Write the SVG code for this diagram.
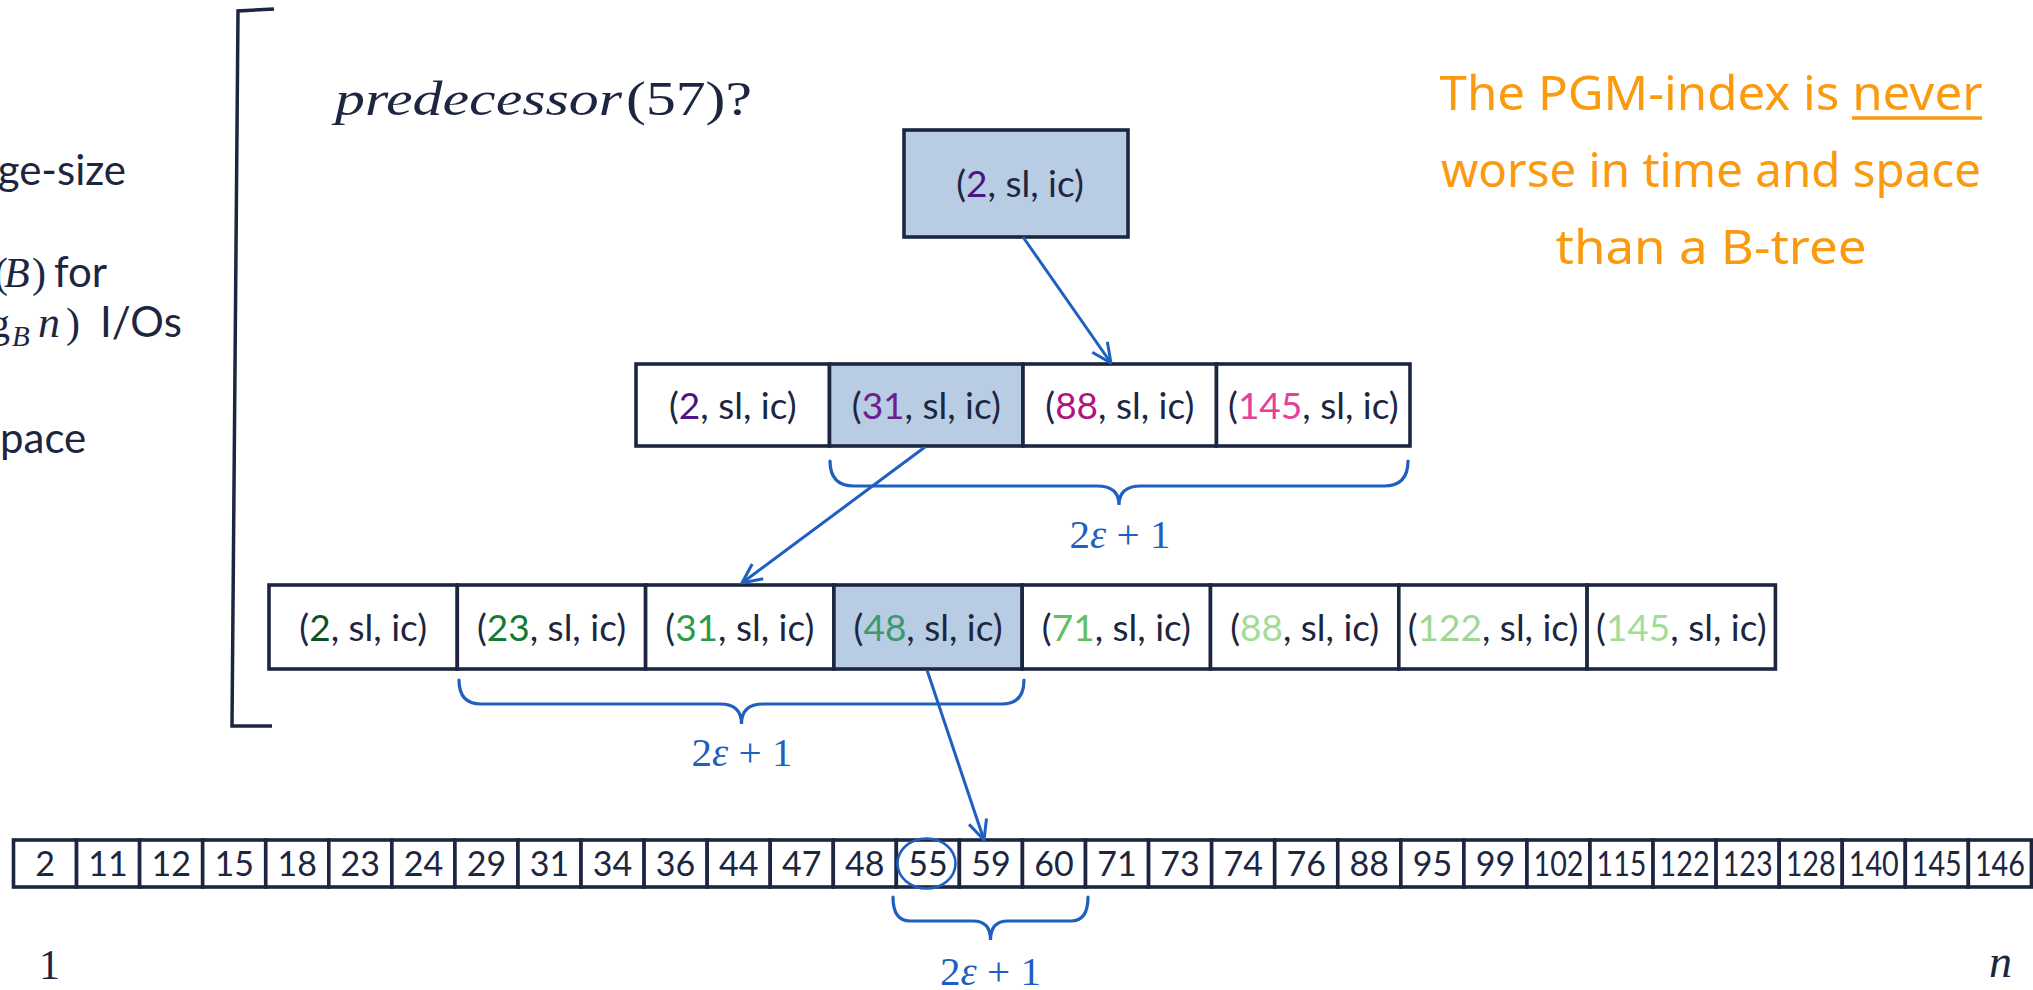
<svg xmlns="http://www.w3.org/2000/svg" width="2033" height="990" viewBox="0 0 2033 990">
  <defs>
    <style>
      .box { fill: #ffffff; stroke: #1d2640; stroke-width: 3.6; }
      .hl { fill: #b8cce4; }
      .t { font-family: Lato, "Liberation Sans", sans-serif; font-size: 37px; fill: #1d2640; text-anchor: middle; }
      .num { font-family: Lato, "Liberation Sans", sans-serif; font-size: 34px; fill: #1d2640; text-anchor: middle; }
      .body { font-family: Lato, "Liberation Sans", sans-serif; font-size: 42px; fill: #1d2640; }
      .mserif { font-family: "Liberation Serif", "DejaVu Serif", serif; fill: #1d2640; }
      .math { font-family: "Liberation Serif", "DejaVu Serif", serif; font-size: 41px; fill: #1f5fbf; text-anchor: middle; }
      .conn { stroke: #1f5fbf; stroke-width: 3; fill: none; }
      .brace { stroke: #1f5fbf; stroke-width: 3.2; fill: none; stroke-linecap: round; }
      .note { font-family: "Comic Sans MS", "Noto Sans", sans-serif; font-size: 48px; fill: #fa9a0f; text-anchor: middle; }
    </style>
    <marker id="ah" viewBox="0 0 20 20" refX="19" refY="10" markerWidth="23" markerHeight="23" orient="auto" markerUnits="userSpaceOnUse">
      <path d="M2,2 L19,10 L2,18" fill="none" stroke="#1f5fbf" stroke-width="2.6" stroke-linejoin="miter"/>
    </marker>
  </defs>

  <rect x="0" y="0" width="2033" height="990" fill="#ffffff"/>

  <!-- left column text, cut at the slide edge -->
  <g id="left-notes">
    <text class="body" x="126" y="185" text-anchor="end">ge-size</text>
    <text y="287">
      <tspan class="mserif" font-size="42" x="-6">(</tspan><tspan class="mserif" font-size="42" font-style="italic" x="4">B</tspan><tspan class="mserif" font-size="42" x="32">)</tspan><tspan class="body" x="54">for</tspan>
    </text>
    <text y="337">
      <tspan class="mserif" font-size="42" x="-11">g</tspan><tspan class="mserif" font-size="29" font-style="italic" x="12" y="346">B</tspan><tspan class="mserif" font-size="44" font-style="italic" x="38" y="337">n</tspan><tspan class="mserif" font-size="42" x="66">)</tspan><tspan class="body" x="100">I/Os</tspan>
    </text>
    <text class="body" x="0" y="453">pace</text>
  </g>

  <!-- big left bracket -->
  <path id="bracket" d="M274,9 L238,11 L232,726 L272,726" fill="none" stroke="#1d2640" stroke-width="3.5"/>

  <!-- query -->
  <g id="query">
    <text class="mserif" y="115" font-size="48"><tspan x="335" font-style="italic" textLength="287" lengthAdjust="spacingAndGlyphs">predecessor</tspan><tspan x="626" textLength="126" lengthAdjust="spacingAndGlyphs">(57)?</tspan></text>
  </g>

  <!-- side note -->
  <g id="note">
    <text class="note" x="1711" y="110" textLength="543" lengthAdjust="spacingAndGlyphs">The PGM-index is never</text>
    <line x1="1852" y1="118" x2="1982" y2="118" stroke="#fa9a0f" stroke-width="3.5"/>
    <text class="note" x="1711" y="187" textLength="540" lengthAdjust="spacingAndGlyphs">worse in time and space</text>
    <text class="note" x="1711" y="264" textLength="311" lengthAdjust="spacingAndGlyphs">than a B-tree</text>
  </g>

  <!-- root segment -->
  <g id="root">
    <rect class="box hl" x="904" y="130" width="224" height="107"/>
    <text class="t" x="1020" y="197">(<tspan fill="#4a1486">2</tspan>, sl, ic)</text>
  </g>

  <!-- level 1 segments -->
  <g id="l1-2"><rect class="box" x="636" y="364" width="193.5" height="82"/><text class="t" x="732.8" y="419">(<tspan fill="#4a1486">2</tspan>, sl, ic)</text></g>
  <g id="l1-31"><rect class="box hl" x="829.5" y="364" width="193.5" height="82"/><text class="t" x="926.3" y="419">(<tspan fill="#6e1f8e">31</tspan>, sl, ic)</text></g>
  <g id="l1-88"><rect class="box" x="1023" y="364" width="193.5" height="82"/><text class="t" x="1119.8" y="419">(<tspan fill="#b3137f">88</tspan>, sl, ic)</text></g>
  <g id="l1-145"><rect class="box" x="1216.5" y="364" width="193.5" height="82"/><text class="t" x="1313.3" y="419">(<tspan fill="#e3409b">145</tspan>, sl, ic)</text></g>

  <!-- level 2 segments -->
  <g id="l2-2"><rect class="box" x="269" y="585" width="188.3" height="84"/><text class="t" x="363.2" y="641">(<tspan fill="#0a5323">2</tspan>, sl, ic)</text></g>
  <g id="l2-23"><rect class="box" x="457.3" y="585" width="188.3" height="84"/><text class="t" x="551.5" y="641">(<tspan fill="#157a34">23</tspan>, sl, ic)</text></g>
  <g id="l2-31"><rect class="box" x="645.6" y="585" width="188.3" height="84"/><text class="t" x="739.8" y="641">(<tspan fill="#2c9a48">31</tspan>, sl, ic)</text></g>
  <g id="l2-48"><rect class="box hl" x="833.9" y="585" width="188.3" height="84"/><text class="t" x="928.1" y="641">(<tspan fill="#3a9a6c">48</tspan>, sl, ic)</text></g>
  <g id="l2-71"><rect class="box" x="1022.2" y="585" width="188.3" height="84"/><text class="t" x="1116.4" y="641">(<tspan fill="#66be63">71</tspan>, sl, ic)</text></g>
  <g id="l2-88"><rect class="box" x="1210.5" y="585" width="188.3" height="84"/><text class="t" x="1304.7" y="641">(<tspan fill="#a3dc99">88</tspan>, sl, ic)</text></g>
  <g id="l2-122"><rect class="box" x="1398.8" y="585" width="188.3" height="84"/><text class="t" x="1493" y="641">(<tspan fill="#9dd893">122</tspan>, sl, ic)</text></g>
  <g id="l2-145"><rect class="box" x="1587.1" y="585" width="188.3" height="84"/><text class="t" x="1681.3" y="641">(<tspan fill="#a3dc99">145</tspan>, sl, ic)</text></g>

  <!-- data array -->
  <g id="a-2"><rect class="box" x="13.5" y="840" width="63.06" height="47"/><text class="num" x="45" y="876">2</text></g>
  <g id="a-11"><rect class="box" x="76.56" y="840" width="63.06" height="47"/><text class="num" x="108.1" y="876">11</text></g>
  <g id="a-12"><rect class="box" x="139.62" y="840" width="63.06" height="47"/><text class="num" x="171.2" y="876">12</text></g>
  <g id="a-15"><rect class="box" x="202.68" y="840" width="63.06" height="47"/><text class="num" x="234.2" y="876">15</text></g>
  <g id="a-18"><rect class="box" x="265.74" y="840" width="63.06" height="47"/><text class="num" x="297.3" y="876">18</text></g>
  <g id="a-23"><rect class="box" x="328.8" y="840" width="63.06" height="47"/><text class="num" x="360.3" y="876">23</text></g>
  <g id="a-24"><rect class="box" x="391.86" y="840" width="63.06" height="47"/><text class="num" x="423.4" y="876">24</text></g>
  <g id="a-29"><rect class="box" x="454.92" y="840" width="63.06" height="47"/><text class="num" x="486.5" y="876">29</text></g>
  <g id="a-31"><rect class="box" x="517.98" y="840" width="63.06" height="47"/><text class="num" x="549.5" y="876">31</text></g>
  <g id="a-34"><rect class="box" x="581.04" y="840" width="63.06" height="47"/><text class="num" x="612.6" y="876">34</text></g>
  <g id="a-36"><rect class="box" x="644.1" y="840" width="63.06" height="47"/><text class="num" x="675.6" y="876">36</text></g>
  <g id="a-44"><rect class="box" x="707.16" y="840" width="63.06" height="47"/><text class="num" x="738.7" y="876">44</text></g>
  <g id="a-47"><rect class="box" x="770.22" y="840" width="63.06" height="47"/><text class="num" x="801.8" y="876">47</text></g>
  <g id="a-48"><rect class="box" x="833.28" y="840" width="63.06" height="47"/><text class="num" x="864.8" y="876">48</text></g>
  <g id="a-55"><rect class="box" x="896.34" y="840" width="63.06" height="47"/><text class="num" x="927.9" y="876">55</text><ellipse cx="926.5" cy="863.5" rx="29" ry="25" fill="none" stroke="#1f5fbf" stroke-width="2.6"/></g>
  <g id="a-59"><rect class="box" x="959.4" y="840" width="63.06" height="47"/><text class="num" x="990.9" y="876">59</text></g>
  <g id="a-60"><rect class="box" x="1022.46" y="840" width="63.06" height="47"/><text class="num" x="1054" y="876">60</text></g>
  <g id="a-71"><rect class="box" x="1085.52" y="840" width="63.06" height="47"/><text class="num" x="1117.1" y="876">71</text></g>
  <g id="a-73"><rect class="box" x="1148.58" y="840" width="63.06" height="47"/><text class="num" x="1180.1" y="876">73</text></g>
  <g id="a-74"><rect class="box" x="1211.64" y="840" width="63.06" height="47"/><text class="num" x="1243.2" y="876">74</text></g>
  <g id="a-76"><rect class="box" x="1274.7" y="840" width="63.06" height="47"/><text class="num" x="1306.2" y="876">76</text></g>
  <g id="a-88"><rect class="box" x="1337.76" y="840" width="63.06" height="47"/><text class="num" x="1369.3" y="876">88</text></g>
  <g id="a-95"><rect class="box" x="1400.82" y="840" width="63.06" height="47"/><text class="num" x="1432.4" y="876">95</text></g>
  <g id="a-99"><rect class="box" x="1463.88" y="840" width="63.06" height="47"/><text class="num" x="1495.4" y="876">99</text></g>
  <g id="a-102"><rect class="box" x="1526.94" y="840" width="63.06" height="47"/><text class="num" x="1558.5" y="876" textLength="50" lengthAdjust="spacingAndGlyphs">102</text></g>
  <g id="a-115"><rect class="box" x="1590" y="840" width="63.06" height="47"/><text class="num" x="1621.5" y="876" textLength="50" lengthAdjust="spacingAndGlyphs">115</text></g>
  <g id="a-122"><rect class="box" x="1653.06" y="840" width="63.06" height="47"/><text class="num" x="1684.6" y="876" textLength="50" lengthAdjust="spacingAndGlyphs">122</text></g>
  <g id="a-123"><rect class="box" x="1716.12" y="840" width="63.06" height="47"/><text class="num" x="1747.7" y="876" textLength="50" lengthAdjust="spacingAndGlyphs">123</text></g>
  <g id="a-128"><rect class="box" x="1779.18" y="840" width="63.06" height="47"/><text class="num" x="1810.7" y="876" textLength="50" lengthAdjust="spacingAndGlyphs">128</text></g>
  <g id="a-140"><rect class="box" x="1842.24" y="840" width="63.06" height="47"/><text class="num" x="1873.8" y="876" textLength="50" lengthAdjust="spacingAndGlyphs">140</text></g>
  <g id="a-145"><rect class="box" x="1905.3" y="840" width="63.06" height="47"/><text class="num" x="1936.8" y="876" textLength="50" lengthAdjust="spacingAndGlyphs">145</text></g>
  <g id="a-146"><rect class="box" x="1968.36" y="840" width="63.06" height="47"/><text class="num" x="1999.9" y="876" textLength="50" lengthAdjust="spacingAndGlyphs">146</text></g>

  <!-- position labels -->
  <text class="mserif" x="39" y="979" font-size="42">1</text>
  <text class="mserif" x="1989" y="977" font-size="46" font-style="italic">n</text>

  <!-- connectors -->
  <g id="connectors">
    <line class="conn" x1="1023" y1="237" x2="1111" y2="363" marker-end="url(#ah)"/>
    <line class="conn" x1="925" y1="447" x2="742" y2="583" marker-end="url(#ah)"/>
    <line class="conn" x1="927" y1="670" x2="984" y2="840" marker-end="url(#ah)"/>
  </g>

  <!-- error-range braces -->
  <g id="braces">
    <path class="brace" d="M830,461 Q830,486 854,486 H1097 Q1119,486 1119,505 Q1119,486 1141,486 H1384 Q1408,486 1408,461"/>
    <text class="math" x="1120" y="548">2<tspan font-style="italic">ε</tspan> + 1</text>
    <path class="brace" d="M459,680 Q459,704 481,704 H720 Q741.5,704 741.5,724 Q741.5,704 763,704 H1002 Q1024,704 1024,680"/>
    <text class="math" x="742" y="766">2<tspan font-style="italic">ε</tspan> + 1</text>
    <path class="brace" d="M893,897 Q893,921 910,921 H973 Q990.5,921 990.5,940 Q990.5,921 1008,921 H1071 Q1088,921 1088,897"/>
    <text class="math" x="990.5" y="985">2<tspan font-style="italic">ε</tspan> + 1</text>
  </g>
</svg>
